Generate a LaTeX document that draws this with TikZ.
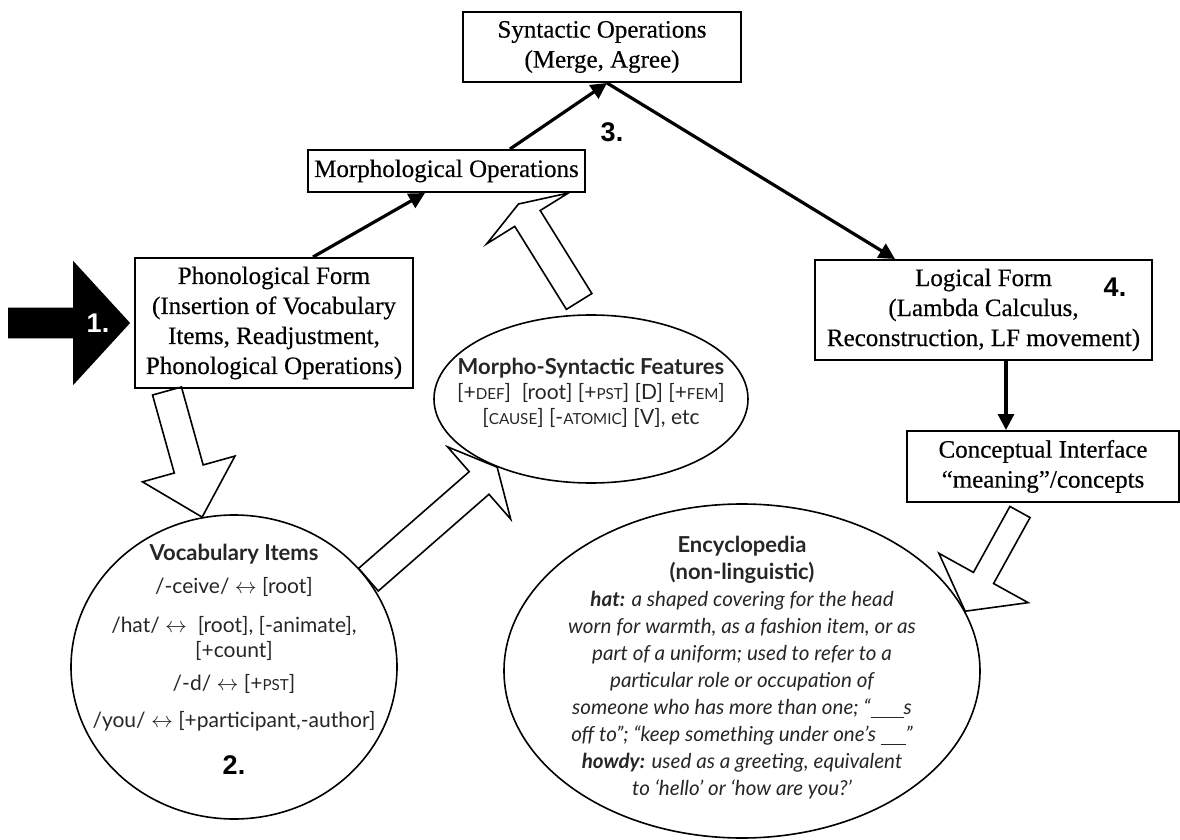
\documentclass[tikz,border=0pt]{standalone}
\usepackage{fontspec}
\setmainfont{Liberation Serif}
\newfontfamily\boxfont{Liberation Serif}[Ligatures=TeX, FakeBold=0.35]
\newfontfamily\avenir[Ligatures=TeX]{Lato}
\newfontfamily\helv{Liberation Sans}
\usetikzlibrary{arrows.meta}
\usetikzlibrary{shapes.geometric}
\usetikzlibrary{calc}
\usetikzlibrary{backgrounds}

\newcommand{\fsc}[1]{{\fontsize{7.6}{9}\selectfont #1}}
\newcommand{\blockarrow}[6][]{%
    \coordinate (ba-s) at (#2);
    \coordinate (ba-e) at (#3);
    \coordinate (ba-b) at ($(ba-e)!#6!(ba-s)$);
    \draw[hollow, #1] ($(ba-s)!#4!90:(ba-e)$) -- ($(ba-b)!#4!-90:(ba-s)$)
        -- ($(ba-b)!#5!-90:(ba-s)$) -- (ba-e) -- ($(ba-b)!#5!90:(ba-s)$)
        -- ($(ba-b)!#4!90:(ba-s)$) -- ($(ba-s)!#4!-90:(ba-e)$) -- cycle;
}

\begin{document}
\begin{tikzpicture}[
    x=0.5pt, y=-0.5pt,
    stage/.style={draw, line width=1pt, align=center, inner sep=0pt,
        font=\boxfont\fontsize{12.5}{15}\selectfont},
    bubble/.style={draw, ellipse, line width=0.8pt, inner sep=0pt},
    blurb/.style={align=center, inner sep=0pt, text=black!85,
        font=\avenir\fontsize{10.5}{12.5}\selectfont},
    flow/.style={line width=1.6pt, -{Triangle[length=8pt,width=8pt]}},
    hollow/.style={draw, fill=white, line width=0.8pt},
    numeral/.style={font=\helv\bfseries\fontsize{13.5}{13.5}\selectfont},
    ]
    \useasboundingbox (0,0) rectangle (1180,840);

    \node[stage, minimum width=139pt, minimum height=35pt] (syn) at (602,47)
        {Syntactic Operations\\(Merge, Agree)};
    \node[stage, minimum width=138.5pt, minimum height=21pt] (morph) at (446.5,171)
        {Morphological Operations};
    \node[stage, minimum width=139pt, minimum height=65pt] (pf) at (274,323)
        {Phonological Form\\(Insertion of Vocabulary\\Items, Readjustment,\\Phonological Operations)};
    \node[stage, minimum width=168.5pt, minimum height=50pt] (lf) at (983.5,310)
        {Logical Form\\(Lambda Calculus,\\Reconstruction, LF movement)};
    \node[stage, minimum width=136pt, minimum height=35.5pt] (ci) at (1043,466.5)
        {Conceptual Interface\\``meaning''/concepts};

    \node[bubble, minimum width=157pt, minimum height=84pt] (msf) at (591,399) {};
    \node[bubble, minimum width=163pt, minimum height=152pt] (vi) at (234,667) {};
    \node[bubble, minimum width=238pt, minimum height=167pt] (enc) at (742,671) {};

    \node[blurb, anchor=north] (msf-text) at (591,358)
        {{\bfseries\fontsize{11}{13}\selectfont Morpho-Syntactic Features}\\
         {}[+\fsc{DEF}]\ \ [root] [+\fsc{PST}] [D] [+\fsc{FEM}]\\
         {}[\fsc{CAUSE}] [-\fsc{ATOMIC}] [V], etc};
    \node[blurb, anchor=north] (vi-text) at (234,544)
        {{\bfseries\fontsize{11}{12.5}\selectfont Vocabulary Items}\\[4pt]
         /-ceive/ $\leftrightarrow$ [root]\\[7pt]
         /hat/ $\leftrightarrow$\ \ [root], [-animate],\\
         {}[+count]\\[4pt]
         /-d/ $\leftrightarrow$ [+\fsc{PST}]\\[6pt]
         /you/ $\leftrightarrow$ [+participant,-author]};
    \node[blurb, anchor=north, font=\avenir\itshape\fontsize{10.3}{13.5}\selectfont] (enc-text) at (742,536)
        {{\upshape\bfseries\fontsize{11}{13.5}\selectfont Encyclopedia}\\
         {\upshape\bfseries\fontsize{11}{13.5}\selectfont (non-linguistic)}\\
         {\bfseries hat:} a shaped covering for the head\\
         worn for warmth, as a fashion item, or as\\
         part of a uniform; used to refer to a\\
         particular role or occupation of\\
         someone who has more than one; ``\underline{\hspace{1.6em}}s\\
         off to''; ``keep something under one's \underline{\hspace{1.2em}}''\\
         {\bfseries howdy:} used as a greeting, equivalent\\
         to `hello' or `how are you?'};

    \node[numeral] (two) at (234,765) {2.};
    \node[numeral] (three) at (612,132) {3.};
    \node[numeral] (four) at (1115,287) {4.};

    \draw[flow] ($(pf.north)+(39,0)$) -- ($(morph.south)+(-21.5,0)$);
    \draw[flow] ($(morph.north)+(63.5,0)$) -- ($(syn.south)+(5,0)$);
    \draw[flow] ($(syn.south)+(5,0)$) -- ($(lf.north)+(-88.5,0)$);
    \draw[flow] ($(lf.south)+(22.5,0)$) -- ($(ci.north)+(-37,0)$);

    \begin{scope}[on background layer]
        \blockarrow[fill=black]{$(pf.west)+(-125,0)$}{$(pf.west)+(-5,0)$}{7.25pt}{30pt}{27.5pt}
        \blockarrow{$(pf.south)+(-107,2)$}{vi.102}{7.5pt}{24pt}{25pt}
        \blockarrow{vi.33}{msf.216}{7.5pt}{24pt}{12pt}
        \blockarrow{$(msf.98)+(0,-13)$}{$(morph.south)+(72,11)$}{7.5pt}{24pt}{8.5pt}
        \blockarrow{$(ci.south)+(-23,9)$}{enc.15}{5.75pt}{25.5pt}{19pt}
    \end{scope}
    \node[numeral, text=white] (one) at (98,323) {1.};
\end{tikzpicture}
\end{document}
